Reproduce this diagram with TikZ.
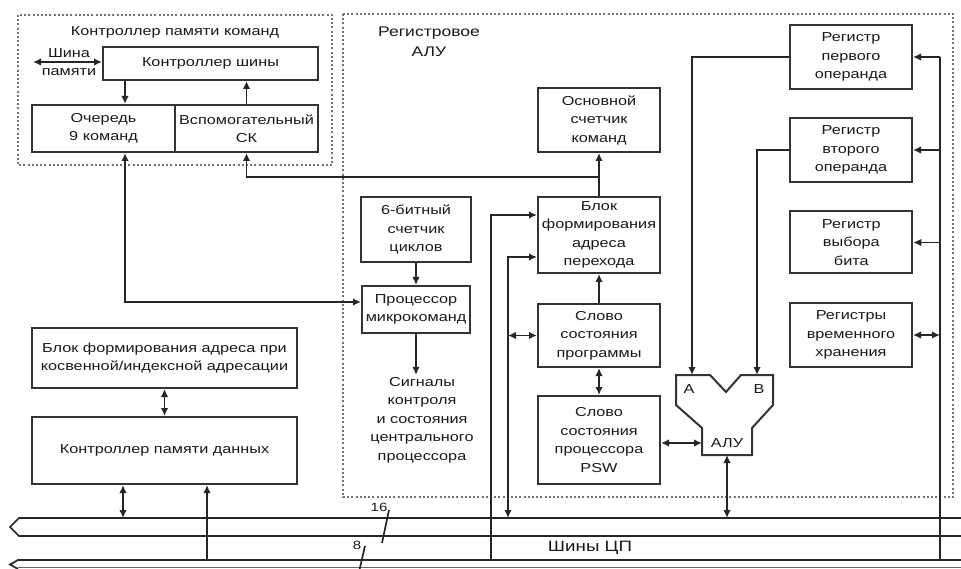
\documentclass[tikz,border=0pt]{standalone}
\usepackage{fontspec}
\setmainfont[FakeStretch=1.25]{Liberation Sans}
\usetikzlibrary{arrows.meta}
\begin{document}
\begin{tikzpicture}[x=1pt,y=-1pt,
  every node/.style={font=\fontsize{13}{18.5}\selectfont, text=black!90},
  box/.style={draw=black!80, line width=2pt, align=center, inner sep=1pt},
  frame/.style={draw=black!55, line width=2pt, dash pattern=on 2pt off 2.2pt},
  conn/.style={draw=black!85, line width=1.7pt},
  arr/.style={conn, -{Latex[length=8pt,width=7.5pt]}},
  darr/.style={conn, {Latex[length=8pt,width=7.5pt]}-{Latex[length=8pt,width=7.5pt]}},
  lbl/.style={align=center, inner sep=2pt}
]
\useasboundingbox (0,0) rectangle (961,569);
\fill[white] (0,0) rectangle (961,569);

% frames
\draw[frame] (18,15) rectangle (332,165);
\draw[frame] (343,14) rectangle (953,497);
\node[lbl] (t1) at (175,32) {Контроллер памяти команд};
\node[lbl, font=\fontsize{14}{20}\selectfont] (t2) at (429,42) {Регистровое\\АЛУ};

% boxes
\node[box, minimum width=215pt, minimum height=33pt] (ctrlbus) at (210.5,63.5) {Контроллер шины};
\node[box, minimum width=143pt, minimum height=47pt] (queue) at (103.5,128.5) {Очередь\\9 команд};
\node[box, minimum width=143pt, minimum height=47pt] (vsk) at (246.5,128.5) {Вспомогательный\\СК};
\node[box, minimum width=122pt, minimum height=64pt] (pc) at (599,120) {Основной\\счетчик\\команд};
\node[box, minimum width=122pt, minimum height=64pt] (reg1) at (851,57) {Регистр\\первого\\операнда};
\node[box, minimum width=122pt, minimum height=64pt] (reg2) at (851,150) {Регистр\\второго\\операнда};
\node[box, minimum width=122pt, minimum height=62pt] (regbit) at (851.3,242.5) {Регистр\\выбора\\бита};
\node[box, minimum width=122pt, minimum height=64pt] (regtmp) at (851,335) {Регистры\\временного\\хранения};
\node[box, minimum width=110pt, minimum height=65pt] (cnt6) at (416,229.5) {6-битный\\счетчик\\циклов};
\node[box, minimum width=108pt, minimum height=47pt] (mproc) at (416,309.5) {Процессор\\микрокоманд};
\node[box, minimum width=122pt, minimum height=76pt] (jmp) at (599,235) {Блок\\формирования\\адреса\\перехода};
\node[box, minimum width=122pt, minimum height=63pt] (prog) at (599,335.5) {Слово\\состояния\\программы};
\node[box, minimum width=122pt, minimum height=88pt] (psw) at (599,440) {Слово\\состояния\\процессора\\PSW};
\node[box, minimum width=265pt, minimum height=60pt] (addr) at (164.5,358) {Блок формирования адреса при\\косвенной/индексной адресации};
\node[box, minimum width=265pt, minimum height=67pt] (dmem) at (164.5,450.5) {Контроллер памяти данных};
\node[lbl] (sig) at (422,420) {Сигналы\\контроля\\и состояния\\центрального\\процессора};

% ALU
\draw[draw=black!80, line width=2pt] (676,375) -- (710,375) -- (726,392) -- (741,375) -- (773,375) -- (773,405)
  -- (752,428) -- (752,455) -- (702,455) -- (702,428) -- (676,405) -- cycle;
\node (la) at (689,389) {A};
\node (lb) at (759,389) {B};
\node (lalu) at (727,443) {АЛУ};
\coordinate (aluA) at (692,375);
\coordinate (aluB) at (757,375);
\coordinate (aluL) at (702,443);
\coordinate (aluD) at (727,455);

% buses
\draw[conn] (961,518) -- (19,518) -- (10,527) -- (19,536) -- (961,536);
\draw[conn] (961,560) -- (18,560) -- (10,564.5) -- (18,569);
\draw[conn, draw=black!60] (18,567.5) -- (961,567.5);
\node[lbl, font=\fontsize{15}{18}\selectfont] (cpu) at (590,548) {Шины ЦП};
\node[lbl, font=\fontsize{12}{14}\selectfont] (n16) at (379,507) {16};
\node[lbl, font=\fontsize{12}{14}\selectfont] (n8) at (357,545) {8};
\coordinate (s16a) at (389,510); \coordinate (s16b) at (382,543);
\coordinate (s8a) at (365,546); \coordinate (s8b) at (359,572);
\draw[conn] (s16a) -- (s16b);
\draw[conn] (s8a) -- (s8b);
\coordinate (busA) at (0,518);
\coordinate (busB) at (0,560);

% columns / rows
\coordinate (mem) at (33,62);
\coordinate (cA) at (125,0);
\coordinate (cE) at (491,0);
\coordinate (cF) at (508,0);
\coordinate (cG) at (940,0);
\coordinate (cK) at (123,0);
\coordinate (cL) at (207,0);
\coordinate (br) at (599,177);
\coordinate (r302) at (0,302);
\coordinate (r215) at (0,215);
\coordinate (r257) at (0,257);

% connectors
\draw[darr] (mem) -- (mem -| ctrlbus.west);
\node[lbl] (shina) at (69,53) {Шина};
\node[lbl] (pam) at (69,72) {памяти};
\draw[arr] (cA |- ctrlbus.south) -- (cA |- queue.north);
\draw[arr] (vsk.north |- queue.north) -- (vsk.north |- ctrlbus.south);
\draw[darr] (cA |- queue.south) |- (mproc.west |- r302);
\draw[arr] (jmp.north) -- (pc.south);
\draw[arr] (br) -| (vsk.south);
\draw[arr] (cnt6.south) -- (mproc.north);
\draw[arr] (mproc.south) -- (sig.north -| mproc.south);
\draw[arr] (prog.north) -- (jmp.south);
\draw[darr] (prog.south) -- (psw.north);
\draw[darr] (aluL -| psw.east) -- (aluL);
\draw[darr] (aluD) -- (aluD |- busA);
\draw[arr] (reg1.west) -| (aluA);
\draw[arr] (reg2.west) -| (aluB);
\draw[conn] (cG |- reg1.east) -- (cG |- busB);
\draw[arr] (cG |- reg1.east) -- (reg1.east);
\draw[arr] (cG |- reg2.east) -- (reg2.east);
\draw[arr] (cG |- regbit.east) -- (regbit.east);
\draw[darr] (regtmp.east) -- (cG |- regtmp.east);
\draw[arr] (cE |- busB) |- (jmp.west |- r215);
\draw[darr] (cF |- busA) |- (jmp.west |- r257);
\draw[darr] (cF |- prog.west) -- (prog.west);
\draw[darr] (addr.south) -- (dmem.north);
\draw[darr] (cK |- dmem.south) -- (cK |- busA);
\draw[arr] (cL |- busB) -- (cL |- dmem.south);
\end{tikzpicture}
\end{document}
